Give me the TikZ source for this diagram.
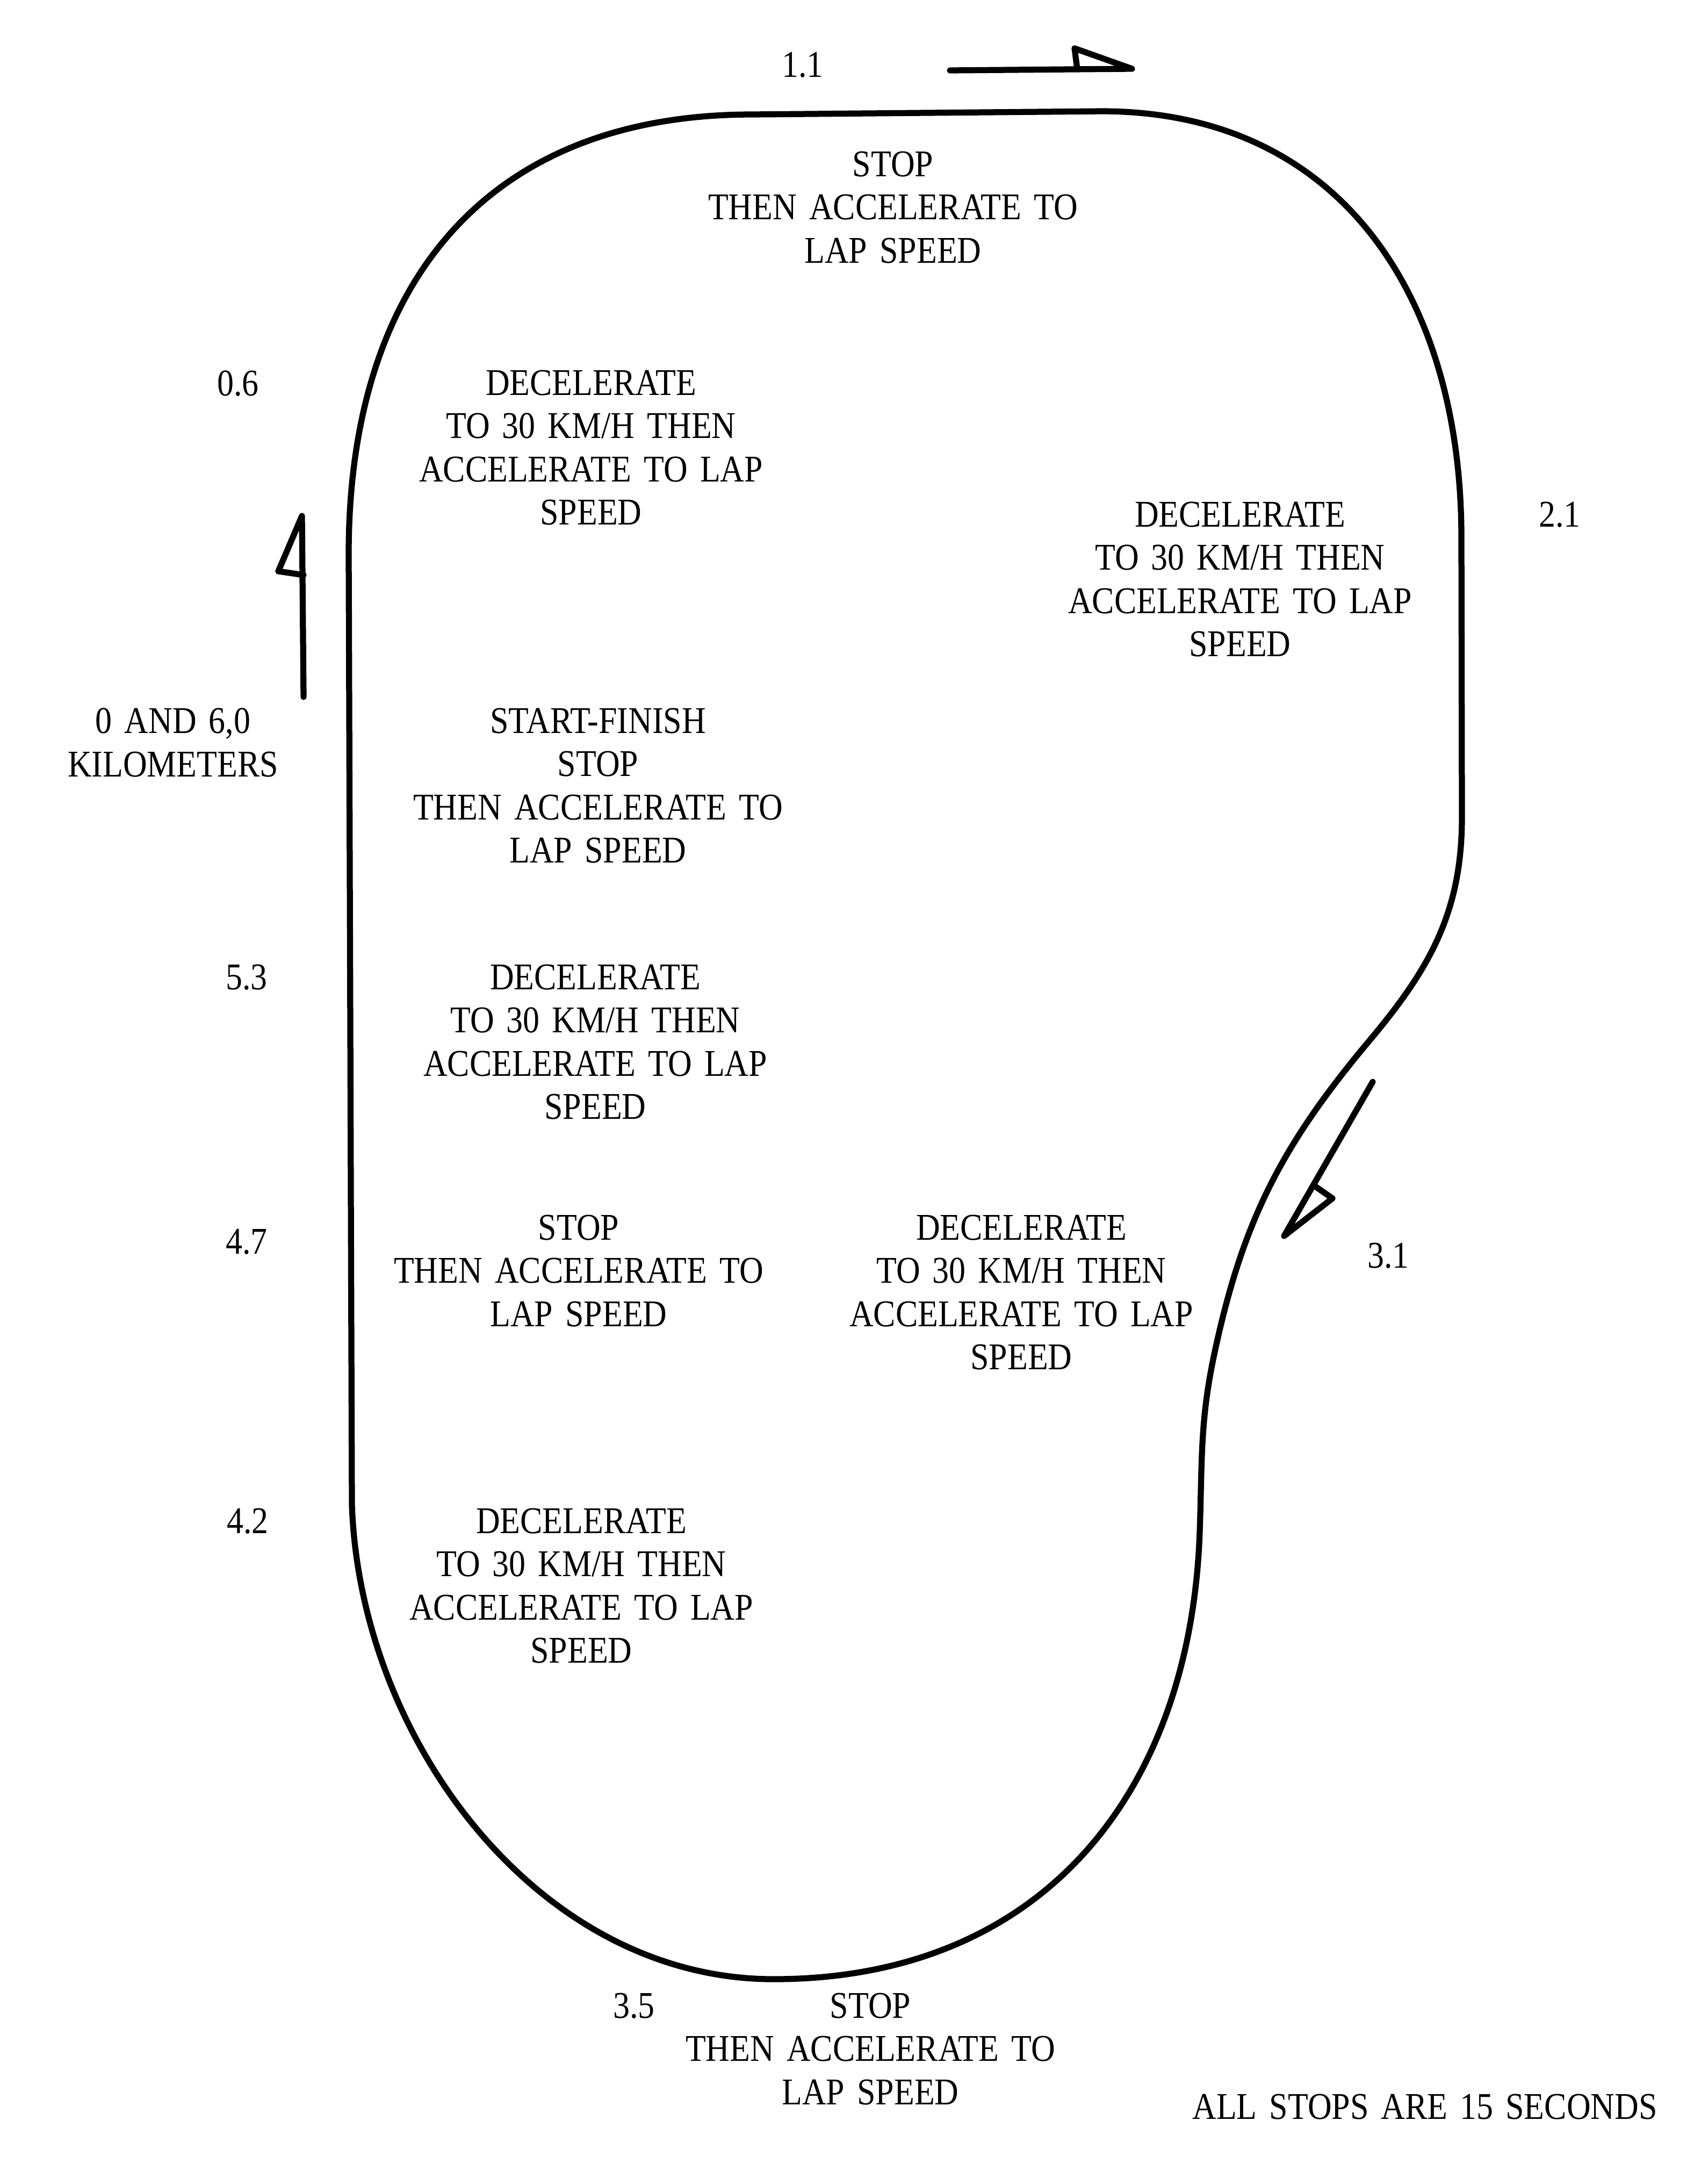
\documentclass[tikz,border=0pt]{standalone}
\usepackage{fontspec}
\setmainfont{Liberation Serif}[FakeStretch=0.88,WordSpace=1.5]
\begin{document}
\begin{tikzpicture}[x=1cm, y=-1cm, font=\fontsize{20}{22.8}\selectfont,
  lbl/.style={align=center, inner sep=0pt},
  track/.style={line width=3.2pt, line join=round},
  dirarrow/.style={line width=3.2pt, line join=round, line cap=round}]
\useasboundingbox (0,0) rectangle (31.79,40.40);
\draw[track] (6.55,28.0) -- (6.49,10.3)
  to[out=90, in=180, looseness=1.15] (14.0,2.13) -- (20.5,2.07)
  to[out=0, in=90, looseness=1.1] (27.2,10.0) -- (27.21,15.2)
  to[out=-90, in=50] (25.5,19.35)
  to[out=230, in=78] (22.6,25.2)
  to[out=258, in=88] (22.33,28.5)
  to[out=-92, in=0, looseness=1.1] (14.4,36.83)
  to[out=180, in=-88, looseness=0.95] (6.55,28.0) -- cycle;
\coordinate (t1) at (17.68,1.31);
\coordinate (h1) at (21.07,1.28);
\coordinate (b1) at (20.00,0.90);
\coordinate (j1) at (20.05,1.29);
\draw[dirarrow] (t1) -- (h1) -- (b1) -- (j1);
\coordinate (t2) at (5.65,12.97);
\coordinate (h2) at (5.62,9.60);
\coordinate (b2) at (5.18,10.63);
\coordinate (j2) at (5.65,10.70);
\draw[dirarrow] (t2) -- (h2) -- (b2) -- (j2);
\coordinate (t3) at (25.55,20.13);
\coordinate (h3) at (23.90,23.00);
\coordinate (b3) at (24.80,22.30);
\coordinate (j3) at (24.47,22.07);
\draw[dirarrow] (t3) -- (h3) -- (b3) -- (j3);
\node[lbl] (km11) at (14.94,1.21) {1.1};
\node[lbl] (km06) at (4.43,7.14) {0.6};
\node[lbl] (km21) at (29.03,9.58) {2.1};
\node[lbl] (km0) at (3.22,13.82) {0 AND 6,0\\KILOMETERS};
\node[lbl] (km53) at (4.59,18.19) {5.3};
\node[lbl] (km47) at (4.59,23.11) {4.7};
\node[lbl] (km31) at (25.84,23.37) {3.1};
\node[lbl] (km42) at (4.61,28.31) {4.2};
\node[lbl] (km35) at (11.80,37.33) {3.5};
\node[lbl] (stop11) at (16.62,3.86) {STOP\\THEN ACCELERATE TO\\LAP SPEED};
\node[lbl] (dec06) at (11.00,8.33) {DECELERATE\\TO 30 KM/H THEN\\ACCELERATE TO LAP\\SPEED};
\node[lbl] (dec21) at (23.08,10.78) {DECELERATE\\TO 30 KM/H THEN\\ACCELERATE TO LAP\\SPEED};
\node[lbl] (start) at (11.13,14.62) {START-FINISH\\STOP\\THEN ACCELERATE TO\\LAP SPEED};
\node[lbl] (dec53) at (11.08,19.39) {DECELERATE\\TO 30 KM/H THEN\\ACCELERATE TO LAP\\SPEED};
\node[lbl] (stop47) at (10.77,23.65) {STOP\\THEN ACCELERATE TO\\LAP SPEED};
\node[lbl] (dec31) at (19.01,24.05) {DECELERATE\\TO 30 KM/H THEN\\ACCELERATE TO LAP\\SPEED};
\node[lbl] (dec42) at (10.82,29.51) {DECELERATE\\TO 30 KM/H THEN\\ACCELERATE TO LAP\\SPEED};
\node[lbl] (stop35) at (16.20,38.13) {STOP\\THEN ACCELERATE TO\\LAP SPEED};
\node[lbl] (note) at (26.52,39.21) {ALL STOPS ARE 15 SECONDS};
\end{tikzpicture}
\end{document}
